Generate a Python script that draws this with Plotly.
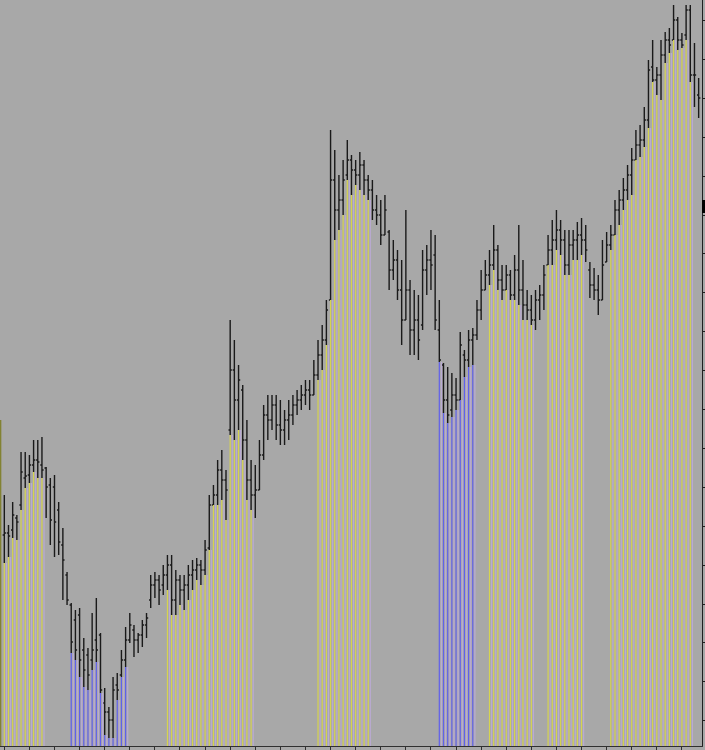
import plotly.graph_objects as go

# ---------------- data (price units) ----------------
bar_index = list(range(167))

high = [1255, 1225, 1248, 1235, 1298, 1298, 1295, 1310, 1310, 1313,
        1283, 1272, 1275, 1248, 1222, 1178, 1147, 1140, 1142, 1112,
        1102, 1137, 1152, 1117, 1062, 1043, 1073, 1077, 1100, 1123,
        1137, 1125, 1117, 1130, 1137, 1175, 1178, 1175, 1185, 1195,
        1195, 1180, 1175, 1175, 1185, 1190, 1192, 1190, 1210, 1255,
        1265, 1290, 1300, 1280, 1430, 1410, 1385, 1365, 1330, 1290,
        1285, 1310, 1345, 1355, 1355, 1355, 1350, 1340, 1350, 1355,
        1360, 1365, 1370, 1370, 1390, 1410, 1425, 1450, 1620, 1600,
        1575, 1590, 1610, 1595, 1590, 1598, 1590, 1575, 1570, 1555,
        1550, 1555, 1520, 1510, 1500, 1490, 1540, 1470, 1460, 1455,
        1500, 1505, 1520, 1515, 1450, 1387, 1383, 1377, 1372, 1418,
        1400, 1420, 1422, 1450, 1480, 1490, 1500, 1525, 1505, 1485,
        1485, 1480, 1495, 1525, 1490, 1460, 1455, 1460, 1465, 1485,
        1515, 1530, 1540, 1530, 1520, 1520, 1520, 1528, 1532, 1525,
        1488, 1482, 1475, 1510, 1518, 1525, 1550, 1560, 1572, 1585,
        1602, 1620, 1625, 1643, 1690, 1710, 1683, 1710, 1718, 1722,
        1745, 1733, 1717, 1745, 1745, 1707, 1672]

low = [1187, 1193, 1212, 1210, 1240, 1262, 1267, 1278, 1272, 1272,
       1232, 1205, 1193, 1195, 1150, 1145, 1097, 1090, 1073, 1063,
       1060, 1080, 1088, 1057, 1015, 1012, 1012, 1050, 1073, 1083,
       1107, 1093, 1097, 1103, 1112, 1142, 1152, 1145, 1155, 1160,
       1135, 1135, 1145, 1140, 1150, 1160, 1170, 1165, 1175, 1200,
       1245, 1245, 1250, 1230, 1315, 1310, 1320, 1290, 1250, 1240,
       1232, 1260, 1290, 1310, 1320, 1310, 1305, 1305, 1310, 1325,
       1335, 1340, 1345, 1340, 1355, 1370, 1380, 1405, 1450, 1510,
       1520, 1535, 1570, 1555, 1565, 1560, 1555, 1550, 1530, 1525,
       1505, 1515, 1460, 1470, 1450, 1405, 1430, 1395, 1395, 1390,
       1420, 1455, 1460, 1420, 1388, 1337, 1327, 1333, 1340, 1350,
       1373, 1383, 1385, 1410, 1430, 1460, 1465, 1480, 1460, 1450,
       1460, 1450, 1450, 1445, 1430, 1430, 1425, 1420, 1430, 1440,
       1485, 1485, 1500, 1495, 1475, 1475, 1490, 1490, 1495, 1488,
       1452, 1450, 1435, 1450, 1488, 1500, 1515, 1525, 1540, 1550,
       1555, 1590, 1593, 1603, 1622, 1668, 1655, 1650, 1687, 1697,
       1710, 1700, 1702, 1710, 1668, 1643, 1632]

open_ = [1215, 1217, 1220, 1232, 1245, 1272, 1275, 1285, 1290, 1285,
         1282, 1265, 1263, 1240, 1205, 1175, 1145, 1130, 1135, 1100,
         1095, 1090, 1110, 1115, 1047, 1038, 1030, 1065, 1075, 1090,
         1110, 1120, 1110, 1115, 1125, 1150, 1165, 1170, 1165, 1175,
         1185, 1150, 1170, 1160, 1165, 1175, 1180, 1185, 1180, 1202,
         1245, 1255, 1280, 1270, 1320, 1380, 1350, 1360, 1310, 1270,
         1255, 1260, 1295, 1335, 1330, 1345, 1325, 1320, 1330, 1335,
         1345, 1350, 1355, 1360, 1355, 1375, 1395, 1410, 1450, 1570,
         1540, 1550, 1575, 1590, 1580, 1575, 1585, 1570, 1560, 1540,
         1535, 1515, 1518, 1480, 1490, 1460, 1430, 1460, 1420, 1430,
         1425, 1480, 1490, 1495, 1420, 1385, 1350, 1340, 1355, 1350,
         1395, 1390, 1410, 1415, 1440, 1460, 1475, 1485, 1500, 1470,
         1460, 1475, 1455, 1480, 1460, 1445, 1440, 1430, 1450, 1455,
         1485, 1500, 1510, 1520, 1510, 1485, 1505, 1510, 1515, 1510,
         1480, 1465, 1460, 1450, 1488, 1505, 1515, 1540, 1550, 1560,
         1575, 1590, 1605, 1610, 1630, 1683, 1670, 1675, 1695, 1710,
         1710, 1730, 1710, 1715, 1740, 1675, 1655]

close = [1217, 1214, 1235, 1228, 1278, 1274, 1285, 1290, 1288, 1280,
         1263, 1230, 1228, 1208, 1190, 1150, 1108, 1100, 1090, 1080,
         1075, 1100, 1100, 1060, 1038, 1030, 1060, 1060, 1090, 1110,
         1125, 1110, 1115, 1125, 1132, 1165, 1170, 1160, 1175, 1185,
         1150, 1170, 1160, 1165, 1175, 1180, 1185, 1180, 1200, 1245,
         1255, 1280, 1270, 1260, 1380, 1350, 1370, 1310, 1270, 1255,
         1260, 1295, 1335, 1330, 1345, 1325, 1320, 1330, 1335, 1345,
         1350, 1355, 1360, 1355, 1375, 1395, 1410, 1440, 1570, 1540,
         1550, 1570, 1590, 1580, 1575, 1585, 1570, 1560, 1540, 1535,
         1515, 1540, 1480, 1490, 1460, 1430, 1460, 1420, 1430, 1410,
         1480, 1490, 1485, 1430, 1390, 1350, 1335, 1355, 1350, 1405,
         1390, 1410, 1415, 1440, 1460, 1475, 1485, 1500, 1470, 1460,
         1475, 1455, 1480, 1460, 1445, 1440, 1430, 1450, 1455, 1475,
         1500, 1510, 1520, 1510, 1485, 1505, 1510, 1515, 1510, 1500,
         1465, 1460, 1450, 1485, 1505, 1515, 1540, 1550, 1560, 1575,
         1590, 1605, 1610, 1630, 1680, 1670, 1675, 1695, 1710, 1705,
         1730, 1710, 1705, 1740, 1675, 1675, 1652]

# histogram state per bar: Y = yellow (up), B = blue (down), - = none
hist_runs = [("Y", 10), ("-", 6), ("B", 14), ("-", 9), ("Y", 21), ("-", 15),
             ("Y", 13), ("-", 16), ("B", 9), ("-", 3), ("Y", 11), ("-", 3),
             ("Y", 9), ("-", 6), ("Y", 20), ("-", 2)]
hist_base = 1000
edge_hist = 1330          # partially visible histogram column at the left edge
marker_price = (1537, 1550)  # black marker on the price scale

hist_state = []
for s, n in hist_runs:
    hist_state += [s] * n
assert len(hist_state) == len(bar_index)

# ---------------- colours ----------------
BG = "#a8a8a8"
BAR = "#1a1a1a"
YEL = "rgb(214,212,80)"
BLU = "rgb(96,96,236)"
LAV = "rgb(186,170,212)"


def segs(xs, tops):
    X, Y = [], []
    for x, t in zip(xs, tops):
        X += [x, x, None]
        Y += [hist_base, t, None]
    return X, Y


fig = go.Figure()

lav_x = [i + 0.5 for i in bar_index if hist_state[i] != "-"]
lav_t = [low[i] for i in bar_index if hist_state[i] != "-"]
X, Y = segs(lav_x, lav_t)
fig.add_trace(go.Scatter(x=X, y=Y, mode="lines", line=dict(color=LAV, width=1.2),
                         hoverinfo="skip", showlegend=False))

for state, col in (("Y", YEL), ("B", BLU)):
    xs = [i for i in bar_index if hist_state[i] == state]
    ts = [low[i] for i in xs]
    X, Y = segs(xs, ts)
    fig.add_trace(go.Scatter(x=X, y=Y, mode="lines", line=dict(color=col, width=1.2),
                             hoverinfo="skip", showlegend=False))

X, Y = segs([-0.95], [edge_hist])
fig.add_trace(go.Scatter(x=X, y=Y, mode="lines", line=dict(color="rgb(130,130,50)", width=2),
                         hoverinfo="skip", showlegend=False))

fig.add_trace(go.Ohlc(x=bar_index, open=open_, high=high, low=low, close=close,
                      increasing=dict(line=dict(color=BAR, width=1.4)),
                      decreasing=dict(line=dict(color=BAR, width=1.4)),
                      tickwidth=0.4, showlegend=False, hoverinfo="skip"))

fig.add_shape(type="rect", xref="paper", yref="y", x0=1.0, x1=1.006,
              y0=marker_price[0], y1=marker_price[1],
              fillcolor="black", line=dict(width=0), layer="above")

fig.update_layout(
    width=705, height=750,
    margin=dict(l=0, r=3, t=0, b=4, pad=0),
    paper_bgcolor=BG, plot_bgcolor=BG,
    showlegend=False, hovermode=False,
    xaxis=dict(range=[-1.03, 166.8], showgrid=False, zeroline=False,
               rangeslider=dict(visible=False),
               showline=True, linecolor="#303030", linewidth=1,
               ticks="outside", ticklen=4, tickcolor="#303030", tickwidth=1,
               tick0=0, dtick=6, showticklabels=False),
    yaxis=dict(range=[1004, 1750], side="right", showgrid=False, zeroline=False,
               showline=True, linecolor="#202020", linewidth=1,
               ticks="outside", ticklen=4, tickcolor="#202020", tickwidth=1,
               tick0=1729.5, dtick=38.9, showticklabels=False),
)

fig.write_html("out.html", config={"displayModeBar": False},
               post_script="document.body.style.margin='0px';document.body.style.background='#a8a8a8';")
